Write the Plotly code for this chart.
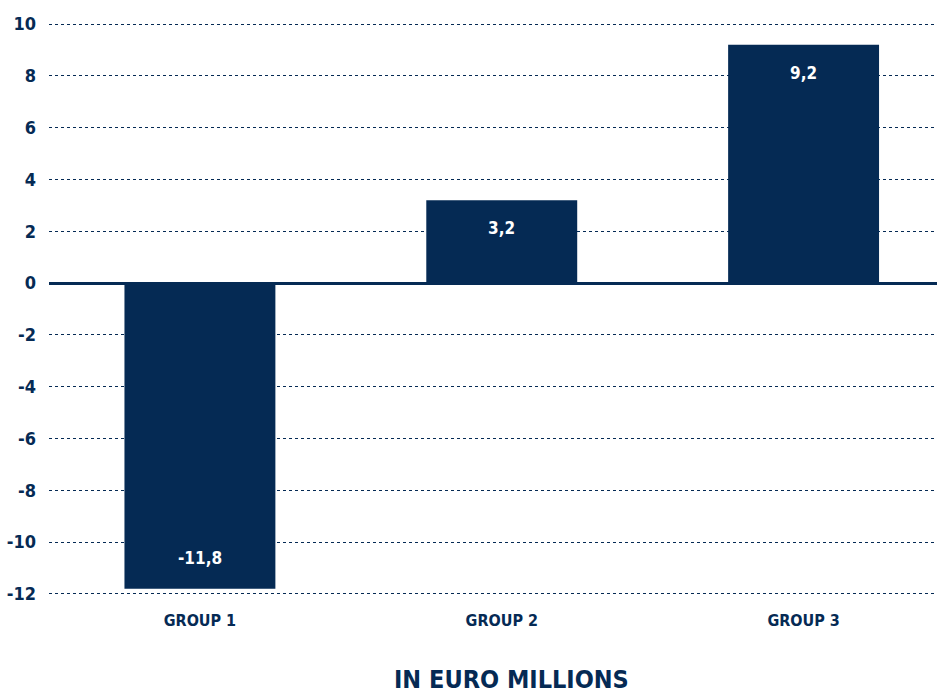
import plotly.graph_objects as go

# Chart data
categories = ["GROUP 1", "GROUP 2", "GROUP 3"]
values = [-11.8, 3.2, 9.2]
value_labels = ["-11,8", "3,2", "9,2"]
y_ticks = [10, 8, 6, 4, 2, 0, -2, -4, -6, -8, -10, -12]
y_tick_text = [str(t) for t in y_ticks]
unit_title = "IN EURO MILLIONS"

NAVY = "#052a54"
FONT = "DejaVu Sans Condensed, Liberation Sans Narrow, Roboto, sans-serif"

fig = go.Figure()
fig.add_trace(go.Bar(
    x=categories,
    y=values,
    width=0.5,
    marker=dict(color=NAVY, line=dict(width=0)),
    hoverinfo="skip",
))

# Value labels placed inside the outer end of each bar
for cat, v, lab in zip(categories, values, value_labels):
    fig.add_annotation(
        x=cat, y=v, text=f"<b>{lab}</b>", showarrow=False,
        yshift=-28 if v > 0 else 31,
        font=dict(family=FONT, size=17, color="white"),
    )

# Unit caption below the category labels
fig.add_annotation(
    xref="paper", yref="paper", x=0.521, y=-0.147,
    xanchor="center", yanchor="middle", showarrow=False,
    text=f"<b>{unit_title}</b>",
    font=dict(family=FONT, size=25, color=NAVY),
)

fig.update_layout(
    width=939, height=693,
    margin=dict(l=49, r=2, t=23, b=98),
    paper_bgcolor="white", plot_bgcolor="white",
    showlegend=False,
    font=dict(family=FONT, color=NAVY),
    xaxis=dict(
        range=[-0.5, 2.442],
        showgrid=False, zeroline=False, showline=False,
        ticks="", tickfont=dict(family=FONT, size=16, color=NAVY),
        ticklabelstandoff=14,
        tickvals=categories, ticktext=[f"<b>{c}</b>" for c in categories],
    ),
    yaxis=dict(
        range=[-12.04, 10.04],
        tickvals=y_ticks, ticktext=[f"<b>{t}</b>" for t in y_tick_text],
        tickfont=dict(family=FONT, size=18, color=NAVY),
        ticklabelstandoff=12,
        showgrid=True, gridcolor=NAVY, griddash="dot", gridwidth=1.2,
        zeroline=True, zerolinecolor=NAVY, zerolinewidth=2.5,
        showline=False, ticks="",
    ),
)

fig.write_html("out.html")
